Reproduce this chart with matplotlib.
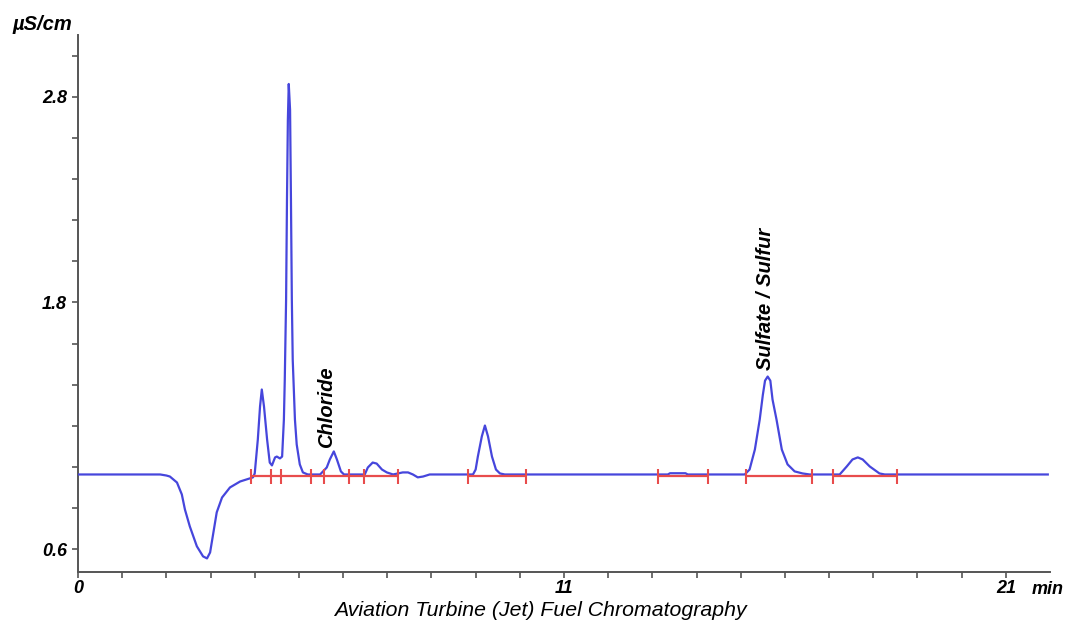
import matplotlib
matplotlib.use("Agg")
import matplotlib.pyplot as plt

plt.rcParams['font.family'] = ['Liberation Sans', 'DejaVu Sans']

# Chromatogram trace (time in min, conductivity in uS/cm)
trace_t = [0.00, 1.86, 2.00, 2.08, 2.24, 2.35, 2.42, 2.53, 2.69, 2.83, 2.92, 2.99,
           3.05, 3.14, 3.26, 3.44, 3.67, 3.89, 3.96, 4.00, 4.07, 4.12, 4.16, 4.21,
           4.28, 4.34, 4.39, 4.46, 4.50, 4.57, 4.62, 4.66, 4.68, 4.71, 4.73, 4.75,
           4.77, 4.80, 4.82, 4.84, 4.86, 4.91, 4.95, 5.02, 5.09, 5.20, 5.48, 5.63,
           5.70, 5.79, 5.86, 5.95, 6.02, 6.49, 6.56, 6.67, 6.76, 6.88, 6.99, 7.13,
           7.35, 7.47, 7.58, 7.69, 7.81, 7.96, 8.94, 9.00, 9.05, 9.14, 9.21, 9.28,
           9.37, 9.46, 9.55, 9.66, 13.35, 13.40, 13.75, 13.80, 15.09, 15.20, 15.32,
           15.43, 15.50, 15.55, 15.61, 15.67, 15.72, 15.81, 15.93, 16.06, 16.22,
           16.40, 16.56, 17.24, 17.40, 17.53, 17.65, 17.76, 17.92, 18.14, 18.26, 21.95]
trace_v = [0.964, 0.964, 0.959, 0.954, 0.925, 0.867, 0.794, 0.712, 0.615, 0.566, 0.556, 0.585,
           0.663, 0.780, 0.852, 0.901, 0.930, 0.945, 0.950, 0.969, 1.134, 1.294, 1.377, 1.294,
           1.134, 1.022, 1.008, 1.047, 1.051, 1.042, 1.051, 1.231, 1.425, 1.814, 2.299, 2.687,
           2.862, 2.736, 2.299, 1.814, 1.522, 1.231, 1.110, 1.013, 0.974, 0.964, 0.964, 0.998,
           1.037, 1.076, 1.037, 0.979, 0.964, 0.964, 0.998, 1.022, 1.017, 0.988, 0.974, 0.964,
           0.974, 0.974, 0.964, 0.950, 0.954, 0.964, 0.964, 0.988, 1.051, 1.149, 1.202, 1.149,
           1.051, 0.988, 0.969, 0.964, 0.964, 0.970, 0.970, 0.964, 0.964, 0.988, 1.085,
           1.231, 1.350, 1.420, 1.440, 1.420, 1.328, 1.231, 1.085, 1.013, 0.979,
           0.969, 0.964, 0.964, 1.003, 1.037, 1.047, 1.037, 1.003, 0.969, 0.964, 0.964]

# Integration baselines (start, end in min) and peak markers
base_start = [3.91, 8.82, 13.12, 15.11, 17.08]
base_end = [7.24, 10.14, 14.25, 16.61, 18.53]
base_level = 0.955
marker_t = [3.91, 4.37, 4.59, 5.27, 5.57, 6.13, 6.47, 7.24,
            8.82, 10.14, 13.12, 14.25, 15.11, 16.61, 17.08, 18.53]

# Peak labels
peak_names = ["Chloride", "Sulfate / Sulfur"]
peak_name_t = [5.63, 15.57]
peak_name_v = [1.095, 1.474]

x_ticks = list(range(0, 22))
x_labels = {0: "0", 11: "11", 21: "21"}
y_ticks = [0.6, 0.8, 1.0, 1.2, 1.4, 1.6, 1.8, 2.0, 2.2, 2.4, 2.6, 2.8, 3.0]
y_labels = {0.6: "0.6", 1.8: "1.8", 2.8: "2.8"}

fig = plt.figure(figsize=(10.66, 6.22), dpi=100)
ax = fig.add_axes([78 / 1066, 1 - 572 / 622, (1050 - 78) / 1066, (572 - 35) / 622])

blue = '#4646dc'
red = '#e84c4c'

ax.plot(trace_t, trace_v, color=blue, lw=1.6, zorder=3)
ax.hlines([base_level] * len(base_start), base_start, base_end, color=red, lw=1.6, zorder=4)
ax.vlines(marker_t, base_level - 0.035, base_level + 0.035, color=red, lw=1.5, zorder=4)

for name, t, v in zip(peak_names, peak_name_t, peak_name_v):
    ax.text(t, v, name, rotation=90, ha='center', va='bottom',
            fontsize=14.5, fontweight='bold', fontstyle='italic', color='black')

ax.set_xlim(0, 22)
ax.set_ylim(0.49, 3.1)
ax.set_xticks(x_ticks)
ax.set_xticklabels([x_labels.get(t, "") for t in x_ticks])
ax.set_yticks(y_ticks)
ax.set_yticklabels([y_labels.get(round(v, 1), "") for v in y_ticks])

for lab in ax.get_xticklabels() + ax.get_yticklabels():
    lab.set_fontsize(13)
    lab.set_fontweight('bold')
    lab.set_fontstyle('italic')

spine_col = '#555555'
for s in ['top', 'right']:
    ax.spines[s].set_visible(False)
for s in ['left', 'bottom']:
    ax.spines[s].set_color(spine_col)
    ax.spines[s].set_linewidth(1.4)
ax.tick_params(axis='both', direction='out', length=4, width=1.2, color=spine_col)
ax.tick_params(axis='x', pad=2)
ax.tick_params(axis='y', pad=4)

fig.text(1032 / 1066, 1 - 589 / 622, "min", ha='left', va='center',
         fontsize=13, fontweight='bold', fontstyle='italic')
fig.text(12 / 1066, 1 - 25 / 622, "µS/cm", ha='left', va='center',
         fontsize=14.5, fontweight='bold', fontstyle='italic')
fig.text(540 / 1066, 1 - 610 / 622, "Aviation Turbine (Jet) Fuel Chromatography",
         ha='center', va='center', fontsize=15.3, fontstyle='italic')

fig.savefig("out.png", dpi=100)
